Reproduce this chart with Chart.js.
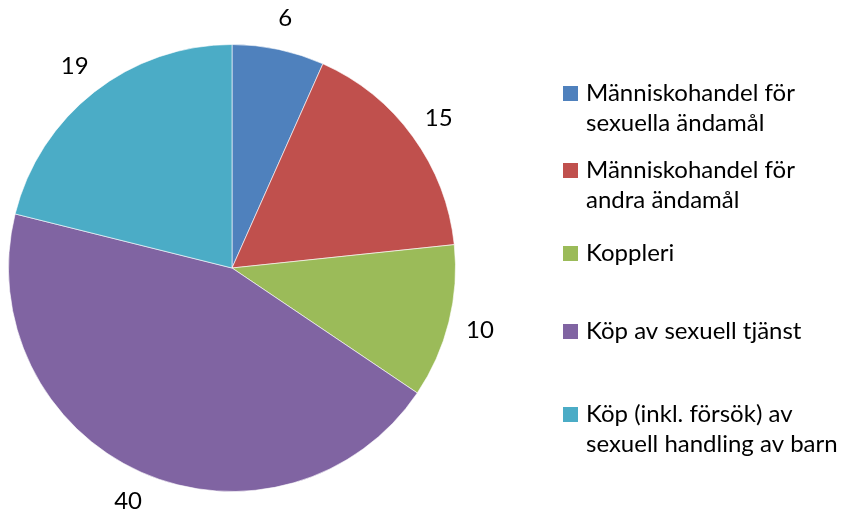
<!DOCTYPE html>
<html>
<head>
<meta charset="utf-8">
<script src="https://cdn.jsdelivr.net/npm/chart.js@4"></script>
<style>
  html, body { margin: 0; padding: 0; background: #fff; }
  #wrap { width: 848px; height: 510px; }
</style>
</head>
<body>
<div id="wrap"><canvas id="pieChart"></canvas></div>
<script>
const categories = [
  ["Människohandel för", "sexuella ändamål"],
  ["Människohandel för", "andra ändamål"],
  ["Koppleri"],
  ["Köp av sexuell tjänst"],
  ["Köp (inkl. försök) av", "sexuell handling av barn"]
];
const values = [6, 15, 10, 40, 19];
const colors = ["#4F81BD", "#C0504D", "#9BBB59", "#8064A2", "#4BACC6"];

const FONT = "24px Lato, 'Open Sans', sans-serif";

// etiketter utanför tårtan
const outsideLabels = {
  id: "outsideLabels",
  afterDatasetsDraw(chart) {
    const ctx = chart.ctx;
    const meta = chart.getDatasetMeta(0);
    ctx.save();
    ctx.font = FONT;
    ctx.fillStyle = "#000";
    ctx.textAlign = "center";
    ctx.textBaseline = "middle";
    meta.data.forEach((arc, i) => {
      const { x, y, startAngle, endAngle, outerRadius } = arc.getProps(["x", "y", "startAngle", "endAngle", "outerRadius"], true);
      const mid = (startAngle + endAngle) / 2;
      const r = outerRadius + 32;
      ctx.fillText(String(values[i]), x + Math.cos(mid) * r, y + Math.sin(mid) * r);
    });
    ctx.restore();
  }
};

// egen förklaring med radbrytningar
const sideLegend = {
  id: "sideLegend",
  afterDraw(chart) {
    const ctx = chart.ctx;
    const itemY = [93, 170, 253, 331, 414];
    ctx.save();
    ctx.font = FONT;
    ctx.textAlign = "left";
    ctx.textBaseline = "middle";
    categories.forEach((lines, i) => {
      ctx.fillStyle = colors[i];
      ctx.fillRect(563, itemY[i] - 7, 15, 15);
      ctx.fillStyle = "#000";
      lines.forEach((line, j) => {
        ctx.fillText(line, 586, itemY[i] + j * 30);
      });
    });
    ctx.restore();
  }
};

new Chart(document.getElementById("pieChart"), {
  type: "pie",
  data: {
    labels: categories.map(l => l.join(" ")),
    datasets: [{
      data: values,
      backgroundColor: colors,
      borderColor: "rgba(255,255,255,0.6)",
      borderWidth: 1
    }]
  },
  options: {
    responsive: true,
    maintainAspectRatio: false,
    animation: false,
    layout: { padding: { left: 8, right: 392, top: 44, bottom: 18 } },
    plugins: {
      legend: { display: false },
      tooltip: { enabled: false }
    }
  },
  plugins: [outsideLabels, sideLegend]
});
</script>
</body>
</html>
